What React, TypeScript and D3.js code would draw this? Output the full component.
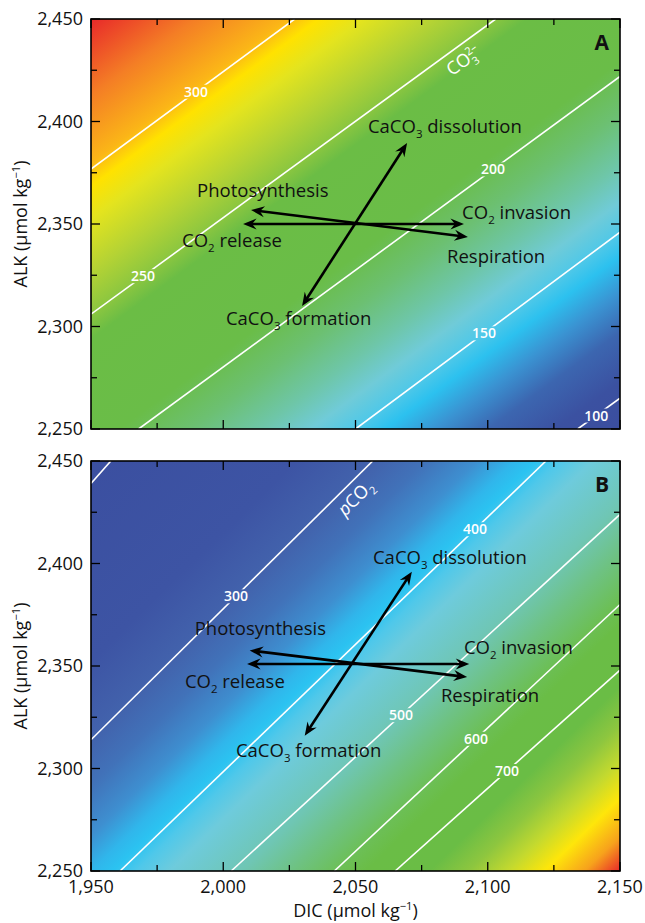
import React from 'react';
import * as d3 from 'd3';

const WIDTH = 645;
const HEIGHT = 923;
const PLOT_LEFT = 91;
const PLOT_RIGHT = 620;
const PANEL_H = 410;
const FONT = "'Open Sans', 'Noto Sans', sans-serif";

// axes
const dicDomain = [1950, 2150];
const alkDomain = [2250, 2450];
const dicMajor = [1950, 2000, 2050, 2100, 2150];
const dicMinor = [1975, 2025, 2075, 2125];
const alkMajor = [2250, 2300, 2350, 2400, 2450];
const alkMinor = [2275, 2325, 2375, 2425];

// panel A: carbonate ion contours, [DIC, ALK] where each line enters / leaves the box
const co3Levels = [300, 250, 200, 150, 100];
const co3Start = [[1950, 2376.8], [1950, 2306], [1968, 2250], [2050, 2250], [2134, 2250]];
const co3End = [[2027, 2450], [2103, 2450], [2150, 2422], [2150, 2346], [2150, 2265]];
const co3LabelDic = [1989.7, 1969.7, 2102, 2098.6, 2141];
const co3StopValues = [92, 105, 120, 132, 143, 150, 160, 172, 188, 205, 242, 250, 265, 283, 294, 302, 325, 352];
const co3StopColours = ['#3B4E9F', '#3B51A1', '#3C66B0', '#3A93D2', '#2CC1EF', '#4FC8E8', '#70CBD8', '#6EC6A8', '#6CC072', '#6ABD48', '#6BBD45', '#8AC640', '#B5D334', '#E4E41E', '#FFE200', '#FBB617', '#F47E25', '#E8262A'];

// panel B: pCO2 contours
const pco2Levels = [200, 300, 400, 500, 600, 700];
const pco2Start = [[1950, 2439], [1950, 2314], [1961, 2250], [2003, 2250], [2042, 2250], [2065, 2250]];
const pco2End = [[1957.5, 2450], [2056.5, 2450], [2122, 2450], [2150, 2424], [2150, 2380], [2150, 2348]];
const pco2LabelDic = [null, 2004.8, 2095.2, 2067.2, 2095.6, 2107.3];
const pco2StopValues = [190, 270, 300, 330, 360, 382, 395, 412, 440, 500, 550, 600, 640, 739, 800, 860, 919, 981, 1037];
const pco2StopColours = ['#3B4FA0', '#3D54A4', '#4262AC', '#4172B9', '#3E8FD0', '#30B6EB', '#2BC3F1', '#4FC8EA', '#6ECBDC', '#6FC6B4', '#6EC283', '#6CBF55', '#6ABD46', '#6ABD45', '#8DC63F', '#C3D92F', '#FEE60A', '#F7A21C', '#E8262A'];

// arrow tips [DIC, ALK]: CaCO3 formation/dissolution, CO2 release/invasion, photosynthesis/respiration
const arrowTipsA = [
  [[2029.8, 2310], [2069.5, 2389.5]],
  [[2007.5, 2350], [2091, 2350]],
  [[2010.5, 2356.8], [2092.5, 2343.7]],
];
const arrowTipsB = [
  [[2030.8, 2316], [2071.3, 2396]],
  [[2009, 2351], [2093, 2351]],
  [[2010, 2357.6], [2092.2, 2344.6]],
];

const processNames = ['Photosynthesis', 'CO2 release', 'CaCO3 formation', 'CaCO3 dissolution', 'CO2 invasion', 'Respiration'];
const processPosA = [[1990.1, 2363.2], [1984.4, 2339], [2001, 2300.7], [2054.7, 2394.4], [2090.3, 2352.4], [2084.6, 2331]];
const processPosB = [[1989.2, 2365.1], [1985.5, 2339.5], [2004.8, 2305.4], [2056.6, 2400], [2091, 2356], [2082.3, 2332.4]];

const fmt = d3.format(',');

// digits after letters become subscripts
const withSubs = (s) =>
  s.split(/(\d)/).map((part, i) =>
    i % 2 ? (
      <tspan key={i} fontSize="0.62em" dy={5}>{part}</tspan>
    ) : (
      <tspan key={i} dy={i ? -5 : 0}>{part}</tspan>
    )
  );

const headPath = (tx, ty, ang) => {
  const L = 13.5, Wd = 5.5, N = 9;
  const c = Math.cos(ang), s = Math.sin(ang);
  const pt = (u, v) => [tx + u * c - v * s, ty + u * s + v * c];
  return 'M' + [pt(0, 0), pt(-L, -Wd), pt(-N, 0), pt(-L, Wd)].map((p) => p.join(',')).join('L') + 'Z';
};

function Panel({ id, top, levels, starts, ends, labelDic, stopValues, stopColours, arrows, labelPos, tag, titleLine, titleAt, title, showDicLabels }) {
  const bottom = top + PANEL_H;
  const x = d3.scaleLinear().domain(dicDomain).range([PLOT_LEFT, PLOT_RIGHT]);
  const y = d3.scaleLinear().domain(alkDomain).range([bottom, top]);

  const segs = starts.map((s, i) => [[x(s[0]), y(s[1])], [x(ends[i][0]), y(ends[i][1])]]);

  // colour field: gradient perpendicular to the mean contour direction
  let dx = 0, dy = 0;
  segs.forEach(([a, b]) => {
    const l = Math.hypot(b[0] - a[0], b[1] - a[1]);
    dx += (b[0] - a[0]) / l;
    dy += (b[1] - a[1]) / l;
  });
  const ln = Math.hypot(dx, dy);
  const n = [-dy / ln, dx / ln];
  const tOf = (p) => p[0] * n[0] + p[1] * n[1];
  const corners = [[PLOT_LEFT, top], [PLOT_RIGHT, top], [PLOT_LEFT, bottom], [PLOT_RIGHT, bottom]];
  const cts = corners.map(tOf);
  const tmin = d3.min(cts), tmax = d3.max(cts);
  const p0 = corners[cts.indexOf(tmin)];
  const p1 = [p0[0] + n[0] * (tmax - tmin), p0[1] + n[1] * (tmax - tmin)];
  const levelT = segs.map(([a, b]) => tOf([(a[0] + b[0]) / 2, (a[1] + b[1]) / 2]));
  const valueToT = d3.scaleLinear().domain(levels).range(levelT);
  const offs = stopValues.map((v) => (valueToT(v) - tmin) / (tmax - tmin));
  const order = d3.range(offs.length).sort((a, b) => offs[a] - offs[b]);
  const colourAt = d3
    .scaleLinear()
    .domain(order.map((i) => offs[i]))
    .range(order.map((i) => stopColours[i]))
    .interpolate(d3.interpolateRgb)
    .clamp(true);
  const stopOffsets = [0, ...offs.filter((o) => o > 0 && o < 1), 1].sort((a, b) => a - b);

  const labels = levels
    .map((lv, i) => {
      const d = labelDic[i];
      if (d == null) return null;
      const s = starts[i], e = ends[i];
      const alk = s[1] + ((d - s[0]) * (e[1] - s[1])) / (e[0] - s[0]);
      return { lv, px: x(d), py: y(alk) };
    })
    .filter(Boolean);

  const tSeg = segs[titleLine];
  const titleAng = (Math.atan2(tSeg[1][1] - tSeg[0][1], tSeg[1][0] - tSeg[0][0]) * 180) / Math.PI;

  const tickLen = (major) => (major ? 9 : 6);

  return (
    <g>
      <defs>
        <linearGradient id={`grad-${id}`} gradientUnits="userSpaceOnUse" x1={p0[0]} y1={p0[1]} x2={p1[0]} y2={p1[1]}>
          {stopOffsets.map((o, i) => (
            <stop key={i} offset={o} stopColor={colourAt(o)} />
          ))}
        </linearGradient>
        <clipPath id={`clip-${id}`}>
          <rect x={PLOT_LEFT} y={top} width={PLOT_RIGHT - PLOT_LEFT} height={PANEL_H} />
        </clipPath>
        <mask id={`mask-${id}`} maskUnits="userSpaceOnUse" x={0} y={0} width={WIDTH} height={HEIGHT}>
          <rect x={0} y={0} width={WIDTH} height={HEIGHT} fill="#fff" />
          {labels.map((l) => (
            <rect key={l.lv} x={l.px - 16} y={l.py - 7} width={32} height={14} fill="#000" />
          ))}
        </mask>
      </defs>

      <rect x={PLOT_LEFT} y={top} width={PLOT_RIGHT - PLOT_LEFT} height={PANEL_H} fill={`url(#grad-${id})`} />

      <g clipPath={`url(#clip-${id})`}>
        <g mask={`url(#mask-${id})`}>
          {segs.map(([a, b], i) => (
            <line key={i} x1={a[0]} y1={a[1]} x2={b[0]} y2={b[1]} stroke="#fff" strokeWidth={1.6} />
          ))}
        </g>
        {labels.map((l) => (
          <text key={l.lv} x={l.px} y={l.py} dy={5} textAnchor="middle" fill="#fff" fontSize={14} fontWeight={600} fontFamily={FONT}>
            {l.lv}
          </text>
        ))}
        <text
          transform={`translate(${x(titleAt[0])},${y(titleAt[1])}) rotate(${titleAng})`}
          fill="#fff"
          fontSize={18}
          fontFamily={FONT}
        >
          {title}
        </text>
      </g>

      {arrows.map(([a, b], i) => {
        const ax = x(a[0]), ay = y(a[1]), bx = x(b[0]), by = y(b[1]);
        const ang = Math.atan2(by - ay, bx - ax);
        const c = Math.cos(ang) * 8, s = Math.sin(ang) * 8;
        return (
          <g key={i}>
            <line x1={ax + c} y1={ay + s} x2={bx - c} y2={by - s} stroke="#000" strokeWidth={2.6} />
            <path d={headPath(bx, by, ang)} fill="#000" />
            <path d={headPath(ax, ay, ang + Math.PI)} fill="#000" />
          </g>
        );
      })}

      {processNames.map((name, i) => (
        <text key={name} x={x(labelPos[i][0])} y={y(labelPos[i][1])} fontSize={18.5} fontFamily={FONT} fill="#111">
          {withSubs(name)}
        </text>
      ))}

      <text x={PLOT_RIGHT - 11} y={top + 31} textAnchor="end" fontSize={21} fontWeight={700} fontFamily={FONT} fill="#111">
        {tag}
      </text>

      {/* ticks on all four sides, inward */}
      <g stroke="#000" strokeWidth={1.3}>
        {[...dicMajor.map((v) => [v, true]), ...dicMinor.map((v) => [v, false])].map(([v, m]) => (
          <g key={`x${v}`}>
            <line x1={x(v)} x2={x(v)} y1={bottom} y2={bottom - tickLen(m)} />
            <line x1={x(v)} x2={x(v)} y1={top} y2={top + tickLen(m)} />
          </g>
        ))}
        {[...alkMajor.map((v) => [v, true]), ...alkMinor.map((v) => [v, false])].map(([v, m]) => (
          <g key={`y${v}`}>
            <line y1={y(v)} y2={y(v)} x1={PLOT_LEFT} x2={PLOT_LEFT + tickLen(m)} />
            <line y1={y(v)} y2={y(v)} x1={PLOT_RIGHT} x2={PLOT_RIGHT - tickLen(m)} />
          </g>
        ))}
      </g>
      <rect x={PLOT_LEFT} y={top} width={PLOT_RIGHT - PLOT_LEFT} height={PANEL_H} fill="none" stroke="#000" strokeWidth={1.6} />

      {alkMajor.map((v) => (
        <text key={v} x={PLOT_LEFT - 8} y={y(v)} dy={6} textAnchor="end" fontSize={18} fontFamily={FONT} fill="#111">
          {fmt(v)}
        </text>
      ))}
      <text transform={`translate(27,${(top + bottom) / 2}) rotate(-90)`} textAnchor="middle" fontSize={18} fontFamily={FONT} fill="#111">
        ALK (µmol kg<tspan fontSize="0.62em" dy={-7}>−1</tspan>
        <tspan dy={7}>)</tspan>
      </text>

      {showDicLabels &&
        dicMajor.map((v) => (
          <text key={v} x={x(v)} y={bottom + 22} textAnchor="middle" fontSize={18} fontFamily={FONT} fill="#111">
            {fmt(v)}
          </text>
        ))}
      {showDicLabels && (
        <text x={(PLOT_LEFT + PLOT_RIGHT) / 2} y={bottom + 46} textAnchor="middle" fontSize={18} fontFamily={FONT} fill="#111">
          DIC (µmol kg<tspan fontSize="0.62em" dy={-7}>−1</tspan>
          <tspan dy={7}>)</tspan>
        </text>
      )}
    </g>
  );
}

export default function App() {
  return (
    <div style={{ position: 'absolute', left: 0, top: 0 }}>
      <svg width={WIDTH} height={HEIGHT} style={{ display: 'block', background: '#fff' }}>
        <Panel
          id="a"
          top={19}
          levels={co3Levels}
          starts={co3Start}
          ends={co3End}
          labelDic={co3LabelDic}
          stopValues={co3StopValues}
          stopColours={co3StopColours}
          arrows={arrowTipsA}
          labelPos={processPosA}
          tag="A"
          titleLine={1}
          titleAt={[2086.5, 2422]}
          title={
            <>
              CO<tspan fontSize={11} dy={5}>3</tspan>
              <tspan fontSize={11} dx={-6.5} dy={-12}>2–</tspan>
            </>
          }
          showDicLabels={false}
        />
        <Panel
          id="b"
          top={461}
          levels={pco2Levels}
          starts={pco2Start}
          ends={pco2End}
          labelDic={pco2LabelDic}
          stopValues={pco2StopValues}
          stopColours={pco2StopColours}
          arrows={arrowTipsB}
          labelPos={processPosB}
          tag="B"
          titleLine={1}
          titleAt={[2046, 2422.7]}
          title={
            <>
              <tspan fontStyle="italic">p</tspan>CO<tspan fontSize={11} dy={5}>2</tspan>
            </>
          }
          showDicLabels={true}
        />
      </svg>
    </div>
  );
}
